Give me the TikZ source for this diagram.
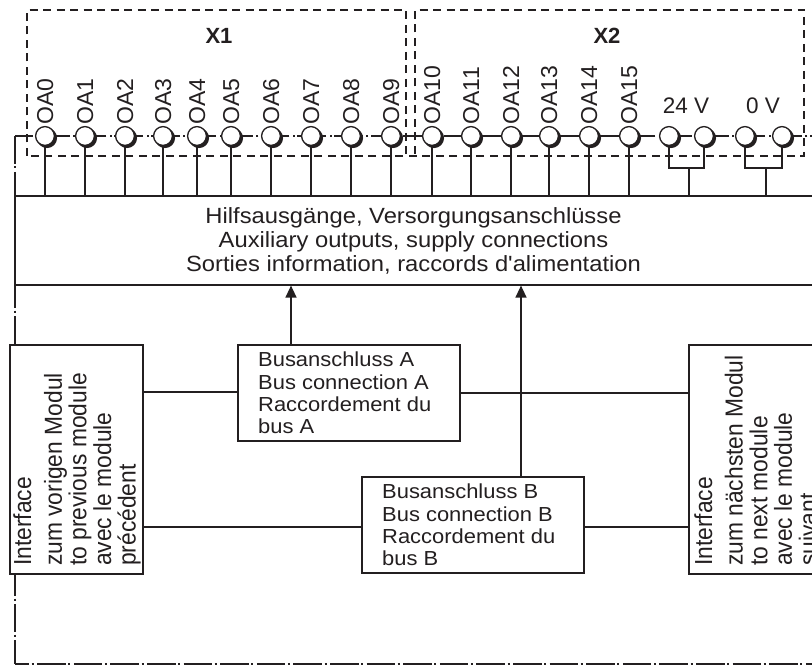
\documentclass[tikz,border=0pt]{standalone}
\usepackage{fontspec}
\setmainfont{Liberation Sans}
\usetikzlibrary{arrows.meta}
\definecolor{ink}{HTML}{231F20}
\tikzset{
  term/.style={circle,draw=ink,line width=1.3pt,fill=white,minimum size=18.8pt,inner sep=0pt,
    preaction={fill=ink,draw=ink,transform canvas={shift={(2pt,-2pt)}}}},
  conn/.style={draw=ink,line width=1.4pt},
  dashbox/.style={draw=ink,line width=1.2pt,dash pattern=on 8pt off 5.5pt},
  chain/.style={draw=ink,line width=1.4pt,dash pattern=on 28.6pt off 2.5pt on 2pt off 3.5pt},
  chainv/.style={draw=ink,line width=1.4pt,dash pattern=on 28pt off 2.5pt on 2pt off 3.5pt},
  block/.style={draw=ink,line width=1.6pt,fill=white,inner sep=0pt,anchor=north west},
  mainlbl/.style={font=\fontsize{22}{24}\selectfont,text=ink,xscale=1.08,align=center},
  buslbl/.style={font=\fontsize{20.3}{22.2}\selectfont,text=ink,xscale=1.08,align=left,anchor=north west,inner sep=0pt},
  vlbl/.style={font=\fontsize{22.5}{24}\selectfont,text=ink},
  conlbl/.style={font=\bfseries\fontsize{22}{24}\selectfont,text=ink},
  rotlbl/.style={font=\fontsize{22.8}{22.8}\selectfont,text=ink,xscale=1.08,rotate=90,align=left,inner sep=0pt,anchor=south west},
  pin/.style={font=\fontsize{23}{24}\selectfont,text=ink,rotate=90,inner sep=0pt,anchor=base west},
  arr/.style={conn,-{Triangle[length=12pt,width=11pt]}}
}
\begin{document}
\begin{tikzpicture}[x=1pt,y=-1pt]
\useasboundingbox (0,0) rectangle (812,666);
\clip (0,0) rectangle (812,666);
% dashed connector frames
\draw[dashbox] (27,156) -- (27,10) -- (406,10) -- (406,154);
\draw[dashbox] (415,154) -- (415,10) -- (804,10) -- (804,156) -- (27,156);
\node[conlbl] (x1) at (219,36) {X1};
\node[conlbl] (x2) at (607,36) {X2};
% chain line
\coordinate (c0) at (812,136);
\coordinate (c1) at (15,136);
\coordinate (c2) at (15,664);
\coordinate (c3) at (812,664);
\draw[chain,dash phase=26.4pt] (c0) -- (c1);
\draw[chainv] (c1) -- (c2);
\draw[chain,dash phase=14.4pt] (c2) -- (c3);
% main block and terminals
\node[block,minimum width=820pt,minimum height=89pt] (main) at (14,195) {};
\node[mainlbl] (maintext) at (413.5,241) {Hilfsausgänge, Versorgungsanschlüsse\\Auxiliary outputs, supply connections\\Sorties information, raccords d\textquotesingle alimentation};
\foreach \n/\x in {0/45,1/85,2/125,3/163,4/197,5/231,6/271,7/311,8/351,9/391,10/432,11/471,12/511,13/549,14/589,15/629}{
  \draw[conn] (\x,136) -- (\x,195);
  \node[term] (t\n) at (\x,136) {};
  \node[pin] (p\n) at (\x+8,124.5) {OA\n};
}
\foreach \n/\x in {16/669,17/704,18/745,19/782}{
  \node[term] (t\n) at (\x,136) {};
}
\node[vlbl] (v24) at (686,106) {24 V};
\node[vlbl] (v0) at (763,106) {0 V};
\coordinate (j1) at (689,168);
\coordinate (j2) at (766,168);
\draw[conn] (t16) -- (t16 |- j1) -- (t17 |- j1) -- (t17);
\draw[conn] (t18) -- (t18 |- j2) -- (t19 |- j2) -- (t19);
\draw[conn] (j1) -- (j1 |- main.north);
\draw[conn] (j2) -- (j2 |- main.north);
% lower blocks
\node[block,minimum width=133pt,minimum height=229pt] (left) at (9,344) {};
\node[block,minimum width=140pt,minimum height=229pt] (right) at (688,344) {};
\node[block,minimum width=222pt,minimum height=96pt] (busa) at (237,344) {};
\node[block,minimum width=222pt,minimum height=96pt] (busb) at (361,476) {};
\node[buslbl] (busatext) at (258,352) {Busanschluss A\\Bus connection A\\Raccordement du\\bus A};
\node[buslbl] (busbtext) at (382,484) {Busanschluss B\\Bus connection B\\Raccordement du\\bus B};
\node[rotlbl] (lefttext) at (141,566) {Interface\\[5.5pt]zum vorigen Modul\\to previous module\\avec le module\\précédent};
\node[rotlbl] (righttext) at (817,566) {Interface\\[5.5pt]zum nächsten Modul\\to next module\\avec le module\\suivant};
% connectors
\draw[conn] (left.east |- 0,392) -- (busa.west |- 0,392);
\draw[conn] (busa.east |- 0,393) -- (right.west |- 0,393);
\draw[conn] (left.east |- 0,527) -- (busb.west |- 0,527);
\draw[conn] (busb.east |- 0,527) -- (right.west |- 0,527);
\draw[arr] (busa.north -| 291,0) -- (main.south -| 291,0);
\draw[arr] (busb.north -| 521,0) -- (main.south -| 521,0);
\end{tikzpicture}
\end{document}
